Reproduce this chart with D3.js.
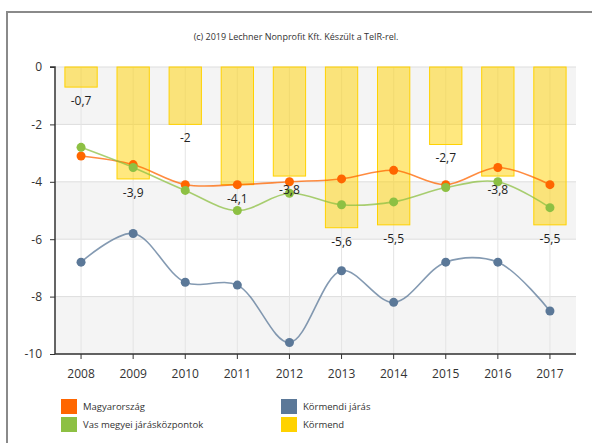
<!DOCTYPE html>
<html>
<head>
<meta charset="utf-8">
<script src="https://cdn.jsdelivr.net/npm/d3@7"></script>
<style>
  html, body { margin: 0; padding: 0; background: #fff; }
  svg { display: block; font-family: "Open Sans", "DejaVu Sans", sans-serif; }
</style>
</head>
<body>
<div id="chart"></div>
<script>
(function () {
  'use strict';

  const YEARS = ['2008', '2009', '2010', '2011', '2012', '2013', '2014', '2015', '2016', '2017'];
  const KORMEND = [-0.7, -3.9, -2, -4.1, -3.8, -5.6, -5.5, -2.7, -3.8, -5.5];
  const MAGYARORSZAG = [-3.1, -3.4, -4.1, -4.1, -4.0, -3.9, -3.6, -4.1, -3.5, -4.1];
  const VAS = [-2.8, -3.5, -4.3, -5.0, -4.4, -4.8, -4.7, -4.2, -4.0, -4.9];
  const KORMENDI_JARAS = [-6.8, -5.8, -7.5, -7.6, -9.6, -7.1, -8.2, -6.8, -6.8, -8.5];
  const Y_TICKS = [0, -2, -4, -6, -8, -10];

  const LINES = [
    { name: 'Magyarország', values: MAGYARORSZAG, color: '#FF6600' },
    { name: 'Vas megyei járásközpontok', values: VAS, color: '#8DC043' },
    { name: 'Körmendi járás', values: KORMENDI_JARAS, color: '#5B7898' }
  ];
  const LEGEND = [
    { name: 'Magyarország', color: '#FF6600', col: 0, row: 0 },
    { name: 'Vas megyei járásközpontok', color: '#8DC043', col: 0, row: 1 },
    { name: 'Körmendi járás', color: '#5B7898', col: 1, row: 0 },
    { name: 'Körmend', color: '#FFD200', col: 1, row: 1 }
  ];

  const W = 592, H = 443;
  const svg = d3.select('#chart').append('svg').attr('width', W).attr('height', H);

  // outer frame
  svg.append('rect')
    .attr('x', 7).attr('y', 12).attr('width', W + 20).attr('height', H + 20)
    .attr('fill', 'none').attr('stroke', '#8a8a8a').attr('stroke-width', 2);

  svg.append('text')
    .attr('x', 296).attr('y', 40)
    .attr('text-anchor', 'middle').attr('fill', '#333').attr('font-size', 9)
    .text('(c) 2019 Lechner Nonprofit Kft. Készült a TeIR-rel.');

  const left = 55, right = 576, top = 67, bottom = 354;
  const x = d3.scaleBand().domain(YEARS).range([left, right]);
  const y = d3.scaleLinear().domain([-10, 0]).range([bottom, top]);

  // alternating bands
  const bands = d3.range(0, Y_TICKS.length - 1).map(i => [Y_TICKS[i], Y_TICKS[i + 1]]);
  svg.append('g').selectAll('rect').data(bands).join('rect')
    .attr('x', left).attr('width', right - left)
    .attr('y', d => y(d[0])).attr('height', d => y(d[1]) - y(d[0]))
    .attr('fill', (d, i) => i % 2 === 0 ? '#F4F4F4' : '#FFFFFF');

  // grid
  svg.append('g').selectAll('line').data(Y_TICKS).join('line')
    .attr('x1', left).attr('x2', right)
    .attr('y1', d => y(d)).attr('y2', d => y(d))
    .attr('stroke', '#DDDDDD');
  svg.append('g').selectAll('line').data(YEARS).join('line')
    .attr('x1', d => x(d) + x.bandwidth() / 2).attr('x2', d => x(d) + x.bandwidth() / 2)
    .attr('y1', top).attr('y2', bottom)
    .attr('stroke', '#E4E4E4');

  // bars (Körmend)
  const barW = x.bandwidth() * 0.62;
  svg.append('g').selectAll('rect').data(KORMEND).join('rect')
    .attr('x', (d, i) => x(YEARS[i]) + (x.bandwidth() - barW) / 2)
    .attr('y', y(0))
    .attr('width', barW)
    .attr('height', d => y(d) - y(0))
    .attr('fill', '#FFD200').attr('fill-opacity', 0.5)
    .attr('stroke', '#FFD200').attr('stroke-width', 1);

  // axes
  const yAxis = svg.append('g').attr('transform', `translate(${left},0)`)
    .call(d3.axisLeft(y).tickValues(Y_TICKS).tickSize(5).tickPadding(8).tickFormat(d => String(d)));
  const xAxis = svg.append('g').attr('transform', `translate(0,${bottom})`)
    .call(d3.axisBottom(x).tickSize(5).tickPadding(10).tickSizeOuter(0));
  [yAxis, xAxis].forEach(a => {
    a.select('.domain').attr('stroke', '#333').attr('stroke-width', 1.5);
    a.selectAll('.tick line').attr('stroke', '#333');
    a.selectAll('.tick text').attr('fill', '#333').attr('font-size', 12)
      .attr('font-family', '"Open Sans", sans-serif');
  });
  yAxis.select('.domain').attr('d', `M-5,${top}H0V${bottom}`);
  xAxis.select('.domain').attr('d', `M${left},0H${right}`);

  // lines
  const line = d3.line()
    .x((d, i) => x(YEARS[i]) + x.bandwidth() / 2)
    .y(d => y(d))
    .curve(d3.curveCatmullRom.alpha(0.5));

  LINES.forEach(s => {
    const g = svg.append('g');
    g.append('path').datum(s.values)
      .attr('d', line).attr('fill', 'none')
      .attr('stroke', s.color).attr('stroke-width', 1.6).attr('stroke-opacity', 0.75);
    g.selectAll('circle').data(s.values).join('circle')
      .attr('cx', (d, i) => x(YEARS[i]) + x.bandwidth() / 2)
      .attr('cy', d => y(d))
      .attr('r', 4.5)
      .attr('fill', s.color);
  });

  // bar labels
  svg.append('g').selectAll('text').data(KORMEND).join('text')
    .attr('x', (d, i) => x(YEARS[i]) + x.bandwidth() / 2)
    .attr('y', d => y(d) + 18)
    .attr('text-anchor', 'middle').attr('fill', '#222').attr('font-size', 12)
    .text(d => String(d).replace('.', ','));

  // legend
  const lg = svg.append('g');
  LEGEND.forEach(l => {
    const lx = 61 + l.col * 220, ly = 399 + l.row * 18;
    lg.append('rect').attr('x', lx).attr('y', ly).attr('width', 16).attr('height', 15).attr('fill', l.color);
    lg.append('text').attr('x', lx + 22).attr('y', ly + 11)
      .attr('fill', '#333').attr('font-size', 9.5).text(l.name);
  });
})();
</script>
</body>
</html>
